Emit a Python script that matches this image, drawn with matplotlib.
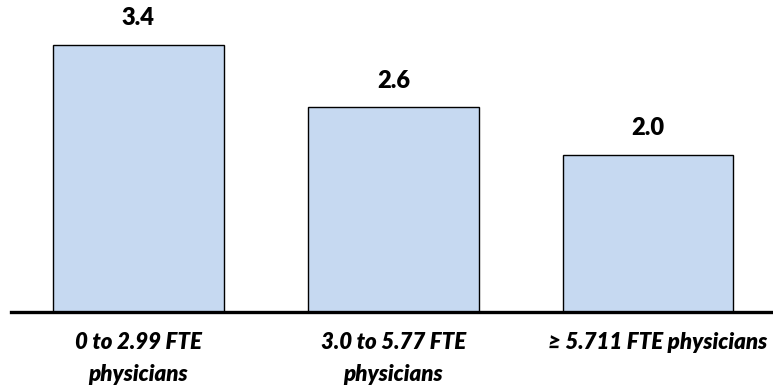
import matplotlib
matplotlib.use('Agg')
import matplotlib.pyplot as plt
from matplotlib.transforms import ScaledTranslation

# values per practice size group
groups = ['0 to 2.99 FTE\nphysicians', '3.0 to 5.77 FTE\nphysicians', '≥ 5.711 FTE physicians']
values = [3.4, 2.6, 2.0]

plt.rcParams['font.family'] = ['Lato', 'DejaVu Sans']

fig = plt.figure(figsize=(7.73, 3.91), dpi=100)
ax = fig.add_axes([11 / 773, 79.5 / 391, 762 / 773, 311.5 / 391])

x = range(len(values))
bars = ax.bar(x, values, width=0.67, color='#C6D9F1', edgecolor='black', linewidth=1.0)

# value labels above each bar
for b, v in zip(bars, values):
    ax.text(b.get_x() + b.get_width() / 2, v + 0.34, f'{v:.1f}',
            ha='center', va='center', fontsize=17, fontweight='heavy')

ax.set_xlim(-0.5, 2.49)
ax.set_ylim(0, 3.97)
ax.set_xticks(list(x))
ax.set_xticklabels(groups, fontsize=16, fontweight='heavy', style='italic', linespacing=1.65)
ax.tick_params(axis='x', length=0, pad=15)
ax.set_yticks([])

# the long one-line label sits a bit to the right
lab = ax.get_xticklabels()[2]
lab.set_transform(lab.get_transform() + ScaledTranslation(0.1, 0, fig.dpi_scale_trans))

for s in ['top', 'right', 'left']:
    ax.spines[s].set_visible(False)
ax.spines['bottom'].set_linewidth(2.4)

plt.savefig('out.png', dpi=100)
